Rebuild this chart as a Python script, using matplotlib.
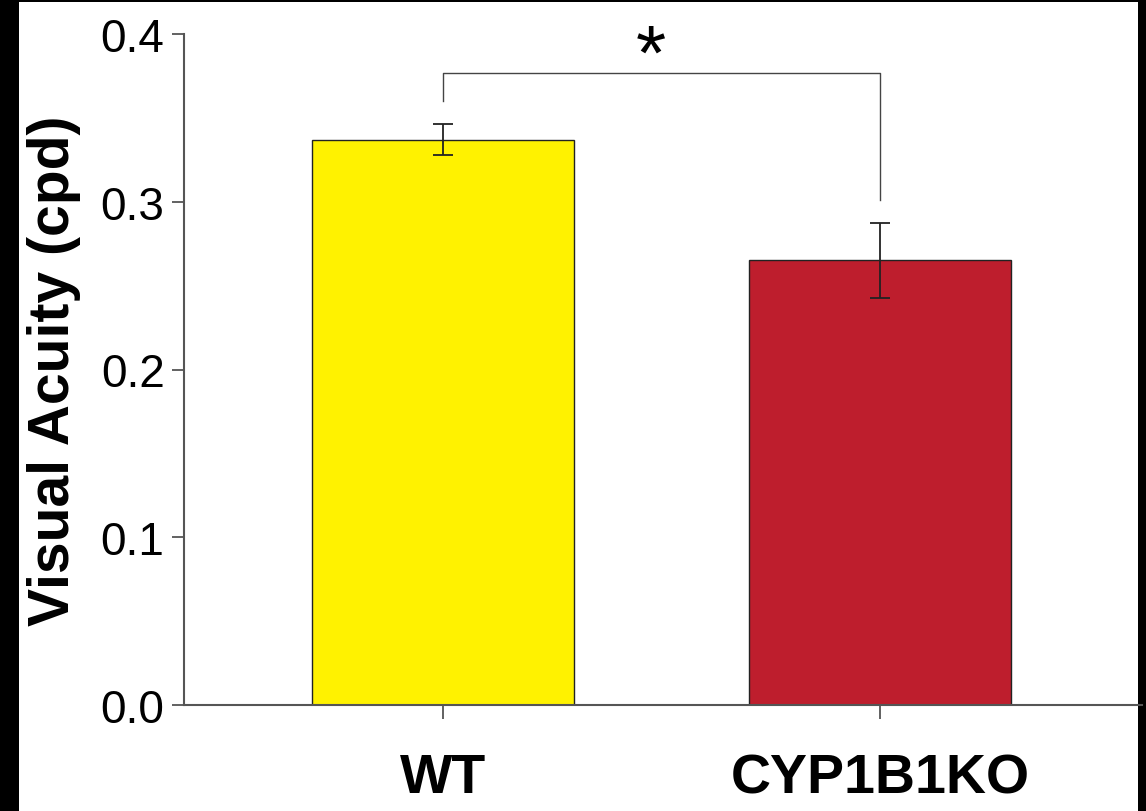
import numpy as np
import matplotlib.pyplot as plt
from matplotlib.patches import Rectangle

# dados
grupos = ['WT', 'CYP1B1KO']
acuidade = [0.337, 0.265]
erro = [0.0093, 0.0225]
cores = ['#FFF200', '#BE1E2D']
p_texto = '*'
y_colchete = 0.377
base_colchete = [0.360, 0.301]

W, H = 1146, 812
fig = plt.figure(figsize=(W / 100, H / 100), dpi=100, facecolor='black')
plt.rcParams['font.family'] = ['Liberation Sans', 'DejaVu Sans']

# moldura branca dentro da borda preta
fig.patches.append(Rectangle((19 / W, 0), (1138 - 19) / W, (812 - 3) / H,
                             transform=fig.transFigure, facecolor='white',
                             edgecolor='none', zorder=-10))

ax = fig.add_axes([184 / W, 106 / H, (1142 - 184) / W, (777 - 106) / H])
ax.set_facecolor('none')

x = np.arange(len(grupos))
ax.bar(x, acuidade, width=0.6, color=cores, edgecolor='#222222', linewidth=1.0, zorder=2)
ax.errorbar(x, acuidade, yerr=erro, fmt='none', ecolor='#222222',
            elinewidth=1.3, capsize=7.5, capthick=1.3, zorder=3)

# colchete de significância
ax.plot([x[0], x[0], x[1], x[1]],
        [base_colchete[0], y_colchete, y_colchete, base_colchete[1]],
        color='#444444', linewidth=1.0, clip_on=False, zorder=3)
ax.text(0.475, 0.3855, p_texto, ha='center', va='center',
        fontsize=56, color='black', clip_on=False)

ax.set_xlim(-0.593, 1.6)
ax.set_ylim(0, 0.4)
ax.set_yticks([0.0, 0.1, 0.2, 0.3, 0.4])
ax.set_yticklabels(['0.0', '0.1', '0.2', '0.3', '0.4'], fontsize=33)
ax.set_xticks(x)
ax.set_xticklabels(grupos, fontsize=40, fontweight='bold')
ax.tick_params(axis='y', length=9, width=1.3, color='#555555', pad=5)
ax.tick_params(axis='x', length=10, width=1.3, color='#555555', pad=24)

for s in ['top', 'right']:
    ax.spines[s].set_visible(False)
for s in ['left', 'bottom']:
    ax.spines[s].set_color('#555555')
    ax.spines[s].set_linewidth(1.5)

ax.set_ylabel('Visual Acuity (cpd)', fontsize=41, fontweight='bold', labelpad=14)

fig.savefig('out.png', dpi=100, facecolor=fig.get_facecolor())
